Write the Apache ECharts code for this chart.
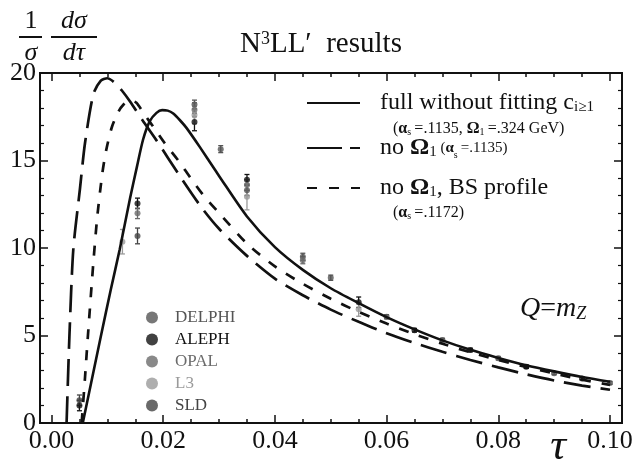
<!DOCTYPE html>
<html><head><meta charset="utf-8">
<script src="https://cdn.jsdelivr.net/npm/echarts@6/dist/echarts.min.js"></script>
<style>html,body{margin:0;padding:0;background:#fff}#c{width:633px;height:476px}</style>
</head><body><div id="c"></div>
<script>
const FONT = '"Liberation Serif", "DejaVu Serif", serif';
const INK = '#111';

// ---- theory curves (tau, 1/sigma dsigma/dtau) ----
const fullTau = [0.0056, 0.0088, 0.0106, 0.0122, 0.0141, 0.0153, 0.0164, 0.0176, 0.0188, 0.0198, 0.0208, 0.0218, 0.0230, 0.0242, 0.0266, 0.0290, 0.030, 0.035, 0.040, 0.045, 0.050, 0.055, 0.060, 0.065, 0.070, 0.075, 0.080, 0.085, 0.090, 0.095, 0.100];
const fullVal = [0, 4.9, 7.6, 9.9, 12.9, 14.65, 16.2, 17.25, 17.72, 17.88, 17.85, 17.68, 17.3, 16.85, 15.75, 14.6, 14.12, 11.8, 10.05, 8.75, 7.7, 6.85, 6.05, 5.35, 4.72, 4.18, 3.72, 3.3, 2.95, 2.63, 2.36];

const noOmegaTau = [0.0027, 0.0032, 0.0039, 0.0051, 0.0060, 0.0075, 0.0088, 0.0100, 0.0113, 0.0126, 0.0140, 0.0163, 0.0188, 0.0228, 0.0269, 0.030, 0.035, 0.040, 0.045, 0.050, 0.055, 0.060, 0.065, 0.070, 0.075, 0.080, 0.085, 0.090, 0.095, 0.100];
const noOmegaVal = [0, 4.9, 9.9, 13.4, 16.0, 18.8, 19.55, 19.7, 19.45, 19.0, 18.4, 17.3, 16.15, 14.2, 12.3, 11.1, 9.55, 8.25, 7.3, 6.48, 5.78, 5.13, 4.57, 4.07, 3.6, 3.18, 2.78, 2.43, 2.14, 1.9];

const bsTau = [0.0054, 0.0060, 0.0065, 0.0075, 0.0082, 0.0091, 0.0098, 0.0108, 0.0120, 0.0129, 0.0140, 0.0152, 0.0165, 0.0185, 0.0203, 0.0227, 0.0249, 0.0273, 0.030, 0.035, 0.040, 0.045, 0.050, 0.055, 0.060, 0.065, 0.070, 0.075, 0.080, 0.085, 0.090, 0.095, 0.100];
const bsVal = [0, 2.6, 4.9, 9.2, 11.8, 14.27, 15.6, 16.9, 17.8, 18.2, 18.45, 18.3, 17.7, 16.8, 15.98, 15.0, 14.0, 12.97, 12.0, 10.25, 8.95, 7.95, 7.1, 6.35, 5.68, 5.07, 4.53, 4.04, 3.6, 3.2, 2.83, 2.48, 2.17];

// ---- experimental data (tau, value, error) ----
const experiments = ['DELPHI', 'ALEPH', 'OPAL', 'L3', 'SLD'];
const expColors = ['#555555', '#111111', '#6b6b6b', '#9a9a9a', '#444444'];
const delphiTau = [0.0256, 0.0303, 0.0350, 0.0450, 0.0500, 0.0600, 0.0700, 0.0800, 0.0900, 0.1000];
const delphiVal = [18.2, 15.65, 13.3, 9.5, 8.3, 6.07, 4.74, 3.7, 2.84, 2.29];
const delphiErr = [0.25, 0.2, 0.3, 0.2, 0.15, 0.12, 0.1, 0.1, 0.08, 0.08];
const alephTau = [0.0050, 0.0154, 0.0256, 0.0350, 0.0550, 0.0650, 0.0750, 0.0850, 0.0950];
const alephVal = [1.0, 12.55, 17.2, 13.9, 6.9, 5.3, 4.17, 3.22, 2.55];
const alephErr = [0.3, 0.3, 0.5, 0.3, 0.3, 0.1, 0.1, 0.1, 0.08];
const opalTau = [0.0154, 0.0256, 0.0350, 0.0450];
const opalVal = [11.98, 17.9, 13.6, 9.3];
const opalErr = [0.3, 0.4, 0.3, 0.2];
const l3Tau = [0.0127, 0.0256, 0.0350, 0.0550];
const l3Val = [10.36, 17.6, 12.93, 6.5];
const l3Err = [0.7, 0.5, 0.75, 0.4];
const sldTau = [0.0050, 0.0154];
const sldVal = [1.3, 10.69];
const sldErr = [0.3, 0.45];

// ---- ticks ----
const xMajorTicks = [0, 0.02, 0.04, 0.06, 0.08, 0.10];
const xMinorTicks = [0.005, 0.01, 0.015, 0.025, 0.03, 0.035, 0.045, 0.05, 0.055, 0.065, 0.07, 0.075, 0.085, 0.09, 0.095];
const X_MIN = -0.00206, X_MAX = 0.10215;
const Y_MIN = 0, Y_MAX = 20, Y_STEP = 5;

const zip = (a, b) => a.map((v, i) => [v, b[i]]);

const chart = echarts.init(document.getElementById('c'), null, {renderer: 'canvas'});

function xAx(pos, ticks, len, labels) {
  return {
    type: 'value', min: X_MIN, max: X_MAX, position: pos, gridIndex: 0,
    splitLine: {show: false},
    axisLine: {show: true, onZero: false, lineStyle: {color: INK, width: 2}},
    axisTick: {show: true, inside: true, length: len, customValues: ticks, lineStyle: {color: INK, width: 1.5}},
    axisLabel: labels ? {show: true, customValues: ticks, formatter: v => v.toFixed(2),
      fontFamily: FONT, fontSize: 26, color: INK, margin: 5} : {show: false}
  };
}
function yAx(pos, labels) {
  return {
    type: 'value', min: Y_MIN, max: Y_MAX, interval: Y_STEP, position: pos,
    splitLine: {show: false},
    axisLine: {show: true, onZero: false, lineStyle: {color: INK, width: 2}},
    axisTick: {show: true, inside: true, length: 8, lineStyle: {color: INK, width: 1.5}},
    minorTick: {show: true, splitNumber: 5, length: 4, lineStyle: {color: INK, width: 1.2}},
    axisLabel: labels ? {show: true, fontFamily: FONT, fontSize: 26, color: INK, margin: 4} : {show: false}
  };
}

function errSeries(name, tau, val, err, color) {
  return {
    type: 'custom', name: name + ' error', xAxisIndex: 0, yAxisIndex: 0, z: 3, silent: true,
    data: tau.map((t, i) => [t, val[i] - err[i], val[i] + err[i]]),
    encode: {x: 0, y: [1, 2]},
    renderItem: function (params, api) {
      const x = api.value(0), lo = api.value(1), hi = api.value(2);
      const p1 = api.coord([x, lo]), p2 = api.coord([x, hi]);
      const cw = 2.5;
      const st = {stroke: color, lineWidth: 1.3};
      return {type: 'group', children: [
        {type: 'line', shape: {x1: p1[0], y1: p1[1], x2: p2[0], y2: p2[1]}, style: st},
        {type: 'line', shape: {x1: p1[0] - cw, y1: p1[1], x2: p1[0] + cw, y2: p1[1]}, style: st},
        {type: 'line', shape: {x1: p2[0] - cw, y1: p2[1], x2: p2[0] + cw, y2: p2[1]}, style: st}
      ]};
    }
  };
}
function ptSeries(name, tau, val, color) {
  return {type: 'scatter', name: name, xAxisIndex: 0, yAxisIndex: 0, z: 4,
    data: zip(tau, val), symbol: 'circle', symbolSize: 6, color: color,
    itemStyle: {color: color}};
}

const expSets = [
  [delphiTau, delphiVal, delphiErr],
  [alephTau, alephVal, alephErr],
  [opalTau, opalVal, opalErr],
  [l3Tau, l3Val, l3Err],
  [sldTau, sldVal, sldErr]
];

const S_FULL = 'full without fitting';
const S_NOOM = 'no Omega1';
const S_BS = 'no Omega1, BS profile';

const series = [];
experiments.forEach((e, i) => {
  series.push(errSeries(e, expSets[i][0], expSets[i][1], expSets[i][2], expColors[i]));
  series.push(ptSeries(e, expSets[i][0], expSets[i][1], expColors[i]));
});
series.push({type: 'line', name: S_FULL, data: zip(fullTau, fullVal), smooth: 0.25, symbol: 'none',
  color: INK, lineStyle: {color: INK, width: 2.6, type: 'solid'}, z: 6, xAxisIndex: 0, yAxisIndex: 0});
series.push({type: 'line', name: S_NOOM, data: zip(noOmegaTau, noOmegaVal), smooth: 0.25, symbol: 'none',
  color: INK, lineStyle: {color: INK, width: 2.7, type: [27, 10]}, z: 6, xAxisIndex: 0, yAxisIndex: 0});
series.push({type: 'line', name: S_BS, data: zip(bsTau, bsVal), smooth: 0.25, symbol: 'none',
  color: INK, lineStyle: {color: INK, width: 2.7, type: [10, 11]}, z: 6, xAxisIndex: 0, yAxisIndex: 0});

const bigRich = {
  m: {fontFamily: FONT, fontSize: 24, color: INK},
  mp: {fontFamily: FONT, fontSize: 24, color: INK, padding: [0, 0, 0, 15]},
  b: {fontFamily: FONT, fontSize: 24, fontWeight: 'bold', color: INK},
  s: {fontFamily: FONT, fontSize: 15, color: INK, verticalAlign: 'bottom', lineHeight: 8},
  sm: {fontFamily: FONT, fontSize: 15, color: INK},
  smb: {fontFamily: FONT, fontSize: 15, fontWeight: 'bold', color: INK},
  ss: {fontFamily: FONT, fontSize: 10, color: INK, verticalAlign: 'bottom', lineHeight: 8}
};
function lineLegend(name, top, dash, textFn) {
  return {
    data: [name], left: 306, top: top, padding: 0, itemWidth: 53, itemHeight: 14,
    selectedMode: false,
    itemStyle: {opacity: 0, borderWidth: 0},
    lineStyle: dash ? {type: dash} : {},
    formatter: textFn,
    textStyle: {rich: bigRich}
  };
}

const expRich = {};
experiments.forEach((e, i) => {
  expRich[e] = {fontFamily: FONT, fontSize: 17, color: expColors[i], padding: [0, 0, 0, 12]};
});

const option = {
  animation: false,
  backgroundColor: '#fff',
  grid: {left: 40, right: 11, top: 73, bottom: 53, containLabel: false, outerBoundsMode: 'none'},
  xAxis: [
    xAx('bottom', xMajorTicks, 8, true),
    xAx('bottom', xMinorTicks, 4, false),
    xAx('top', xMajorTicks, 8, false),
    xAx('top', xMinorTicks, 4, false)
  ],
  yAxis: [yAx('left', true), yAx('right', false)],
  title: {
    text: '{a|N}{p|3}{a|LL\u2032  results}',
    left: 240, top: 30, padding: 0,
    textStyle: {fontWeight: 'normal', rich: {
      a: {fontFamily: FONT, fontSize: 29, fontWeight: 'normal', color: INK},
      p: {fontFamily: FONT, fontSize: 18, fontWeight: 'normal', color: INK, verticalAlign: 'top', lineHeight: 12}
    }}
  },
  legend: [
    lineLegend(S_FULL, 91, null, () => '{mp|full without fitting c}{s|i\u22651}'),
    lineLegend(S_NOOM, 136, [35, 8], () => '{mp|no }{b|\u03A9}{s|1}{sm| (}{smb|\u03B1}{ss|s}{sm|\u2009=.1135)}'),
    lineLegend(S_BS, 176, [10, 12], () => '{mp|no }{b|\u03A9}{s|1}{m|, BS profile}'),
    {
      data: experiments, orient: 'vertical', left: 146, top: 309, padding: 0,
      itemWidth: 12, itemHeight: 12, itemGap: 5, icon: 'circle', selectedMode: false,
      formatter: name => '{' + name + '|' + name + '}',
      textStyle: {rich: expRich}
    }
  ],
  graphic: [
    {type: 'text', x: 31, y: 21, style: {text: '1', fontFamily: FONT, fontSize: 26, fill: INK, align: 'center', verticalAlign: 'middle'}},
    {type: 'line', shape: {x1: 19, y1: 37, x2: 42, y2: 37}, style: {stroke: INK, lineWidth: 2}},
    {type: 'text', x: 31, y: 53, style: {text: '\u03C3', fontFamily: FONT, fontStyle: 'italic', fontSize: 26, fill: INK, align: 'center', verticalAlign: 'middle'}},
    {type: 'text', x: 74, y: 21, style: {text: 'd\u03C3', fontFamily: FONT, fontStyle: 'italic', fontSize: 26, fill: INK, align: 'center', verticalAlign: 'middle'}},
    {type: 'line', shape: {x1: 51, y1: 37, x2: 97, y2: 37}, style: {stroke: INK, lineWidth: 2}},
    {type: 'text', x: 74, y: 53, style: {text: 'd\u03C4', fontFamily: FONT, fontStyle: 'italic', fontSize: 26, fill: INK, align: 'center', verticalAlign: 'middle'}},
    {type: 'text', x: 558, y: 447, style: {text: '\u03C4', fontFamily: FONT, fontStyle: 'italic', fontSize: 44, fill: INK, align: 'center', verticalAlign: 'middle'}},
    {type: 'text', x: 520, y: 309, style: {
      text: '{i|Q}{r|=}{i|m}{z|Z}', verticalAlign: 'middle',
      rich: {
        i: {fontFamily: FONT, fontStyle: 'italic', fontSize: 28, fill: INK, color: INK},
        r: {fontFamily: FONT, fontSize: 28, fill: INK, color: INK},
        z: {fontFamily: FONT, fontStyle: 'italic', fontSize: 18, fill: INK, color: INK, verticalAlign: 'bottom', lineHeight: 10}
      }}},
    {type: 'text', x: 393, y: 129, style: {
      text: '{t|(}{b|\u03B1}{s|s}{t|\u2009=.1135, }{b|\u03A9}{s|1}{t|\u2009=.324 GeV)}', verticalAlign: 'middle',
      rich: {
        t: {fontFamily: FONT, fontSize: 16, fill: INK, color: INK},
        b: {fontFamily: FONT, fontSize: 16, fontWeight: 'bold', fill: INK, color: INK},
        s: {fontFamily: FONT, fontSize: 10, fill: INK, color: INK, verticalAlign: 'bottom', lineHeight: 8}
      }}},
    {type: 'text', x: 393, y: 213, style: {
      text: '{t|(}{b|\u03B1}{s|s}{t|\u2009=.1172)}', verticalAlign: 'middle',
      rich: {
        t: {fontFamily: FONT, fontSize: 16, fill: INK, color: INK},
        b: {fontFamily: FONT, fontSize: 16, fontWeight: 'bold', fill: INK, color: INK},
        s: {fontFamily: FONT, fontSize: 10, fill: INK, color: INK, verticalAlign: 'bottom', lineHeight: 8}
      }}}
  ],
  series: series
};
chart.setOption(option);
</script>
</body></html>
